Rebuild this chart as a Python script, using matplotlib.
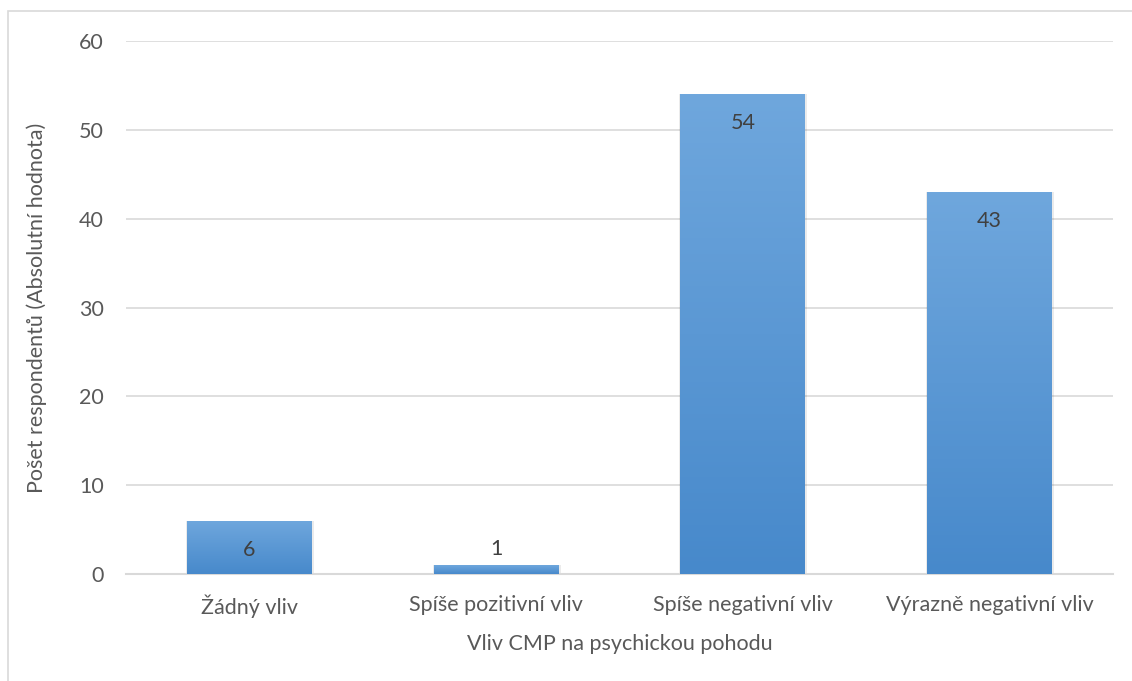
import numpy as np
import matplotlib.pyplot as plt
from matplotlib.colors import LinearSegmentedColormap
from matplotlib.patches import Rectangle

# data
categories = ['Žádný vliv', 'Spíše pozitivní vliv', 'Spíše negativní vliv', 'Výrazně negativní vliv']
values = [6, 1, 54, 43]

plt.rcParams['font.family'] = ['Lato', 'DejaVu Sans']
text_col = '#595959'
fs = 15.5

fig = plt.figure(figsize=(11.32, 6.81), dpi=100)
ax = fig.add_axes([0.1113, 0.1571, 0.8719, 0.7827])

# light frame around the chart (top and left visible)
fig.patches.append(Rectangle((8 / 1132, -0.1), 1.2, 0.1 + 1 - 11 / 681, transform=fig.transFigure,
                             fill=False, edgecolor='#d9d9d9', linewidth=1.2))

x = np.arange(len(categories))
width = 0.506
cmap = LinearSegmentedColormap.from_list('g', ['#4789cb', '#6fa7dd'])
grad = np.linspace(0, 1, 256).reshape(-1, 1)

bars = ax.bar(x, values, width=width, color='none', zorder=3)
for b in bars:
    # soft shadow
    ax.add_patch(Rectangle((b.get_x() - 0.004, 0), b.get_width() + 0.012, b.get_height(),
                           facecolor='#000000', alpha=0.08, edgecolor='none', zorder=2))
    im = ax.imshow(grad, cmap=cmap, aspect='auto', origin='lower',
                   extent=[b.get_x(), b.get_x() + b.get_width(), 0, b.get_height()], zorder=3)
    im.set_clip_path(b)

for xi, v in zip(x, values):
    if v < 3:
        ax.annotate(str(v), (xi, v), xytext=(0, 11.5), textcoords='offset points',
                    ha='center', va='center', fontsize=fs, color='#404040', zorder=4)
    else:
        ax.annotate(str(v), (xi, v), xytext=(0, -21), textcoords='offset points',
                    ha='center', va='center', fontsize=fs, color='#404040', zorder=4)

ax.set_xlim(-0.5, len(categories) - 0.5)
ax.set_ylim(0, 60)
ax.set_yticks(range(0, 61, 10))
ax.set_xticks(x)
ax.set_xticklabels(categories)
ax.yaxis.grid(True, color='#d9d9d9', linewidth=1.2, zorder=0)
ax.set_axisbelow(True)
for s in ['top', 'right', 'left']:
    ax.spines[s].set_visible(False)
ax.spines['bottom'].set_color('#d9d9d9')
ax.spines['bottom'].set_linewidth(1.5)
ax.tick_params(axis='both', length=0, labelsize=fs, colors=text_col)
ax.tick_params(axis='x', pad=15)
ax.tick_params(axis='y', pad=16)

ax.set_xlabel('Vliv CMP na psychickou pohodu', fontsize=fs, color=text_col, labelpad=11)
ax.set_ylabel('Pošet respondentů (Absolutní hodnota)', fontsize=fs, color=text_col, labelpad=23)

fig.savefig('out.png', dpi=100)
